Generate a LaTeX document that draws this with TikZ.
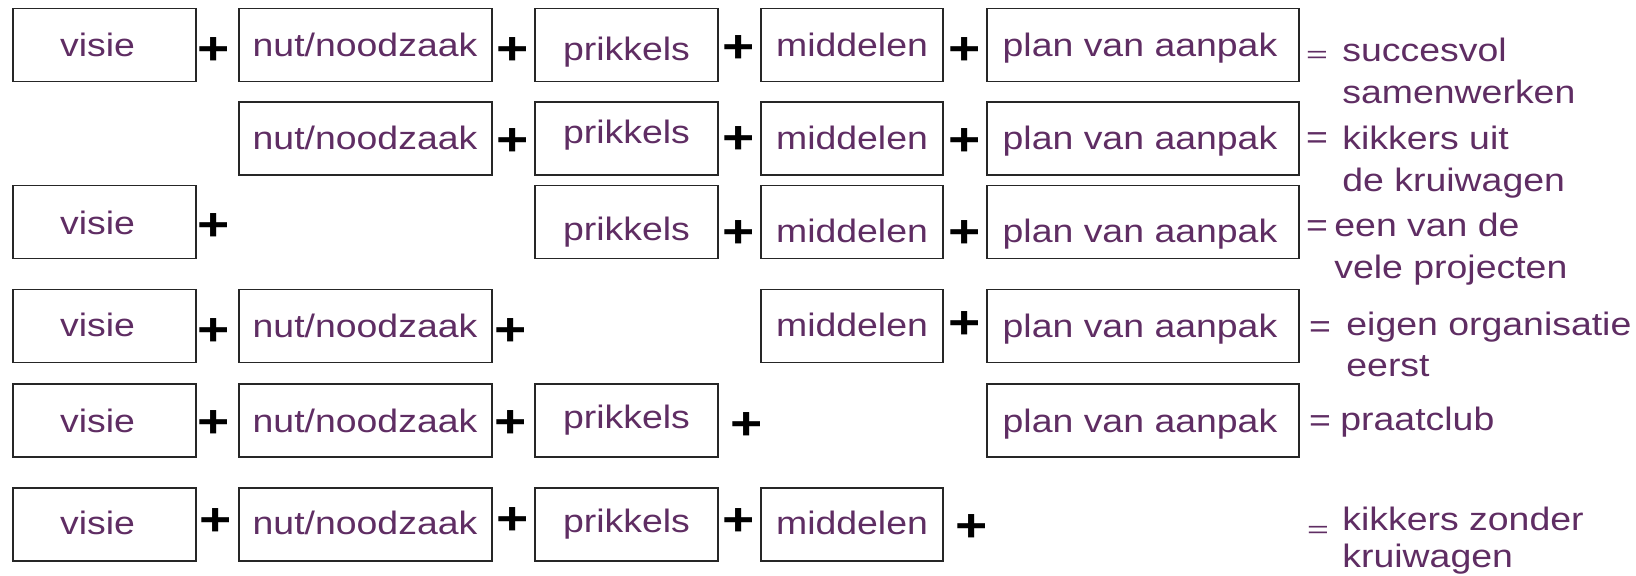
\documentclass[tikz,border=0pt]{standalone}
\usepackage{fontspec}
\usepackage{graphicx}
\newfontfamily\tfont[FakeStretch=1.155]{Liberation Sans}
\newfontfamily\pfont[FakeStretch=1.2]{Liberation Sans Bold}
\definecolor{txtpurple}{RGB}{95,45,99}
\begin{document}
\begin{tikzpicture}[x=0.5pt,y=-0.5pt]
\tikzset{
  box/.style={draw=black!85, line width=0.8pt, inner sep=0pt, outer sep=0pt, minimum height=36.5pt},
  ca/.style={minimum width=91.5pt},
  cb/.style={minimum width=126.5pt},
  cc/.style={minimum width=91.5pt},
  cd/.style={minimum width=91pt},
  ce/.style={minimum width=156pt},
  lbl/.style={text=txtpurple, font=\tfont\fontsize{16.2pt}{19pt}\selectfont, inner sep=0pt, anchor=base},
  res/.style={lbl, anchor=base west},
  pls/.style={font=\pfont\fontsize{23pt}{26pt}\selectfont, inner sep=0pt, anchor=center, text=black},
  smalleq/.style={lbl}
}
\useasboundingbox (0,0) rectangle (1636,575);
% ---------- row 1
\node[box,ca] (b11) at (104.5,45) {};
\node[box,cb] (b12) at (365.5,45) {};
\node[box,cc] (b13) at (626.5,45) {};
\node[box,cd] (b14) at (852,45) {};
\node[box,ce] (b15) at (1143,45) {};
\node[lbl] (t11) at (97.5,56) {visie};
\node[lbl] (t12) at (365,56) {nut/noodzaak};
\node[lbl] (t13) at (626.5,60) {prikkels};
\node[lbl] (t14) at (852,56) {middelen};
\node[lbl] (t15) at (1140,56) {plan van aanpak};
\node[pls] (p11) at (214,51) {+};
\node[pls] (p12) at (513,51) {+};
\node[pls] (p13) at (739,49) {+};
\node[pls] (p14) at (965,51) {+};
\node[smalleq] (e1) at (1317,62) {\scalebox{1}[0.7]{=}};
\node[res] (r1a) at (1342,61.5) {succesvol};
\node[res] (r1b) at (1342,103) {samenwerken};
% ---------- row 2
\node[box,cb] (b22) at (365.5,138.5) {};
\node[box,cc] (b23) at (626.5,138.5) {};
\node[box,cd] (b24) at (852,138.5) {};
\node[box,ce] (b25) at (1143,138.5) {};
\node[lbl] (t22) at (365,149) {nut/noodzaak};
\node[lbl] (t23) at (626.5,143) {prikkels};
\node[lbl] (t24) at (852,149) {middelen};
\node[lbl] (t25) at (1140,149) {plan van aanpak};
\node[pls] (p22) at (513,142) {+};
\node[pls] (p23) at (739,140) {+};
\node[pls] (p24) at (965,142) {+};
\node[lbl] (e2) at (1317,148) {=};
\node[res] (r2a) at (1342,149) {kikkers uit};
\node[res] (r2b) at (1342,191) {de kruiwagen};
% ---------- row 3
\node[box,ca] (b31) at (104.5,222) {};
\node[box,cc] (b33) at (626.5,222) {};
\node[box,cd] (b34) at (852,222) {};
\node[box,ce] (b35) at (1143,222) {};
\node[lbl] (t31) at (97.5,234) {visie};
\node[lbl] (t33) at (626.5,240) {prikkels};
\node[lbl] (t34) at (852,242) {middelen};
\node[lbl] (t35) at (1140,242) {plan van aanpak};
\node[pls] (p31) at (214,227) {+};
\node[pls] (p33) at (739,234) {+};
\node[pls] (p34) at (965,234) {+};
\node[lbl] (e3) at (1317,236) {=};
\node[res] (r3a) at (1334,236) {een van de};
\node[res] (r3b) at (1334,278) {vele projecten};
% ---------- row 4
\node[box,ca] (b41) at (104.5,326) {};
\node[box,cb] (b42) at (365.5,326) {};
\node[box,cd] (b44) at (852,326) {};
\node[box,ce] (b45) at (1143,326) {};
\node[lbl] (t41) at (97.5,336) {visie};
\node[lbl] (t42) at (365,337) {nut/noodzaak};
\node[lbl] (t44) at (852,336) {middelen};
\node[lbl] (t45) at (1140,337) {plan van aanpak};
\node[pls] (p41) at (214,332) {+};
\node[pls] (p42) at (511,332) {+};
\node[pls] (p44) at (965,325) {+};
\node[lbl] (e4) at (1320,337) {=};
\node[res] (r4a) at (1346,335) {eigen organisatie};
\node[res] (r4b) at (1346,376) {eerst};
% ---------- row 5
\node[box,ca] (b51) at (104.5,420.5) {};
\node[box,cb] (b52) at (365.5,420.5) {};
\node[box,cc] (b53) at (626.5,420.5) {};
\node[box,ce] (b55) at (1143,420.5) {};
\node[lbl] (t51) at (97.5,432) {visie};
\node[lbl] (t52) at (365,432) {nut/noodzaak};
\node[lbl] (t53) at (626.5,428) {prikkels};
\node[lbl] (t55) at (1140,432) {plan van aanpak};
\node[pls] (p51) at (214,424) {+};
\node[pls] (p52) at (511,424) {+};
\node[pls] (p53) at (747,426) {+};
\node[lbl] (e5) at (1320,431) {=};
\node[res] (r5a) at (1340,430) {praatclub};
% ---------- row 6
\node[box,ca] (b61) at (104.5,524.5) {};
\node[box,cb] (b62) at (365.5,524.5) {};
\node[box,cc] (b63) at (626.5,524.5) {};
\node[box,cd] (b64) at (852,524.5) {};
\node[lbl] (t61) at (97.5,534) {visie};
\node[lbl] (t62) at (365,534) {nut/noodzaak};
\node[lbl] (t63) at (626.5,532) {prikkels};
\node[lbl] (t64) at (852,534) {middelen};
\node[pls] (p61) at (216,522) {+};
\node[pls] (p62) at (513,521) {+};
\node[pls] (p63) at (739,522) {+};
\node[pls] (p64) at (972,528) {+};
\node[smalleq] (e6) at (1318,537) {\scalebox{1}[0.7]{=}};
\node[res] (r6a) at (1342,530) {kikkers zonder};
\node[res] (r6b) at (1342,567) {kruiwagen};
\end{tikzpicture}
\end{document}
